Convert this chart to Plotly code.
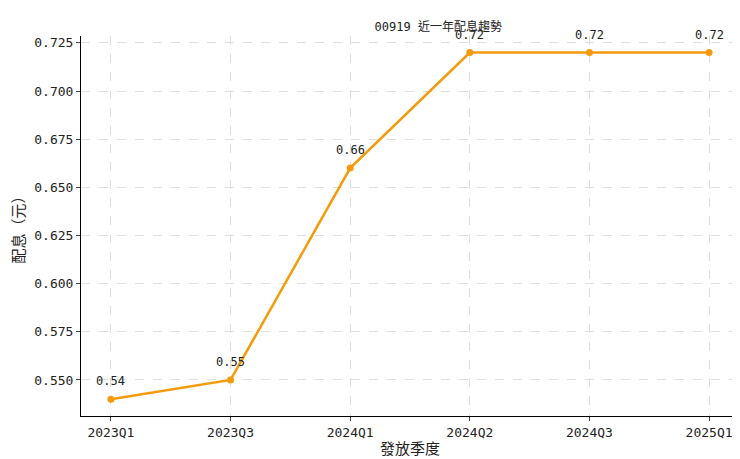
import plotly.graph_objects as go

quarters = ["2023Q1", "2023Q3", "2024Q1", "2024Q2", "2024Q3", "2025Q1"]
dividends = [0.54, 0.55, 0.66, 0.72, 0.72, 0.72]
yticks = [0.550, 0.575, 0.600, 0.625, 0.650, 0.675, 0.700, 0.725]

font = "DejaVu Sans Mono, Noto Sans CJK TC"
xs = list(range(len(quarters)))
fig = go.Figure(go.Scatter(x=xs, y=dividends, mode="lines+markers",
                           line=dict(color="#f59b0b", width=2.5),
                           marker=dict(size=7, color="#f59b0b")))
for x, v in zip(xs, dividends):
    fig.add_annotation(x=x, y=v, text=f"{v:.2f}", showarrow=False, yshift=18,
                       font=dict(size=12, color="#222"))
axis = dict(showline=True, linecolor="black", linewidth=1, gridcolor="#dedede",
            griddash="dash", ticks="outside", ticklen=4, zeroline=False, automargin=False,
            tickfont=dict(size=13, color="#222"), mirror=False)
fig.update_layout(
    width=740, height=459, plot_bgcolor="white", paper_bgcolor="white",
    margin=dict(l=73, r=9, t=28, b=51), showlegend=False,
    font=dict(family=font, color="#222"),
    title=dict(text="00919 近一年配息趨勢", x=0.543, xref="paper", y=0.968, yref="container",
               font=dict(size=12), automargin=False),
    xaxis=dict(axis, tickvals=xs, ticktext=quarters, range=[-0.25, 5.25],
               title=dict(text="發放季度", font=dict(size=15), standoff=4)),
    yaxis=dict(axis, tickvals=yticks, tickformat=".3f", range=[0.5313, 0.7286],
               title=dict(text="配息（元）", font=dict(size=15), standoff=6)),
)
fig.write_html("out.html")
